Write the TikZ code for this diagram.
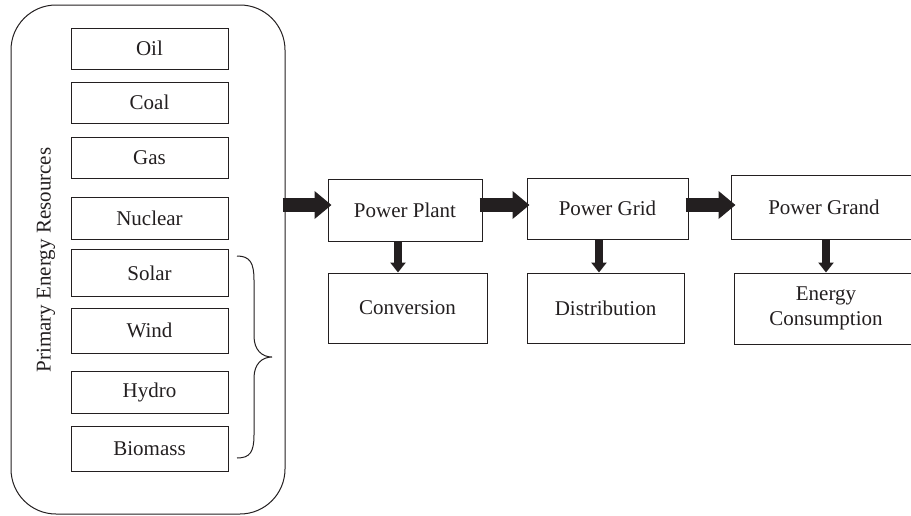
\documentclass[tikz,border=0pt]{standalone}
\usepackage{fontspec}
\setmainfont{Liberation Serif}
\usetikzlibrary{arrows.meta,calc}
\definecolor{ink}{HTML}{231F20}
\begin{document}
\begin{tikzpicture}[x=1pt,y=-1pt,
  box/.style={draw=ink, line width=1pt, inner sep=0pt, align=center,
    font=\fontsize{21}{25}\selectfont, text=ink},
  src/.style={box, minimum width=157pt},
  harrow/.style={draw=ink, line width=14pt, -{Triangle[width=27pt,length=17pt]}},
  varrow/.style={draw=ink, line width=8pt, -{Triangle[width=15pt,length=10pt]}}]
\useasboundingbox (0,0) rectangle (911,515);

% outer rounded frame
\node[draw=ink, line width=1pt, rounded corners=45pt, minimum width=274pt,
  minimum height=509pt, inner sep=0pt] (outer) at (148,259.5) {};

\node[rotate=90, text=ink, font=\fontsize{21}{25}\selectfont] (label) at (46,260)
  {Primary Energy Resources};

% sources
\node[src, minimum height=41pt] (oil) at (149.5,48.5) {Oil};
\node[src, minimum height=41pt] (coal) at (149.5,102.5) {Coal};
\node[src, minimum height=41pt] (gas) at (149.5,157.5) {Gas};
\node[src, minimum height=42pt] (nuclear) at (149.5,218) {Nuclear};
\node[src, minimum height=47pt] (solar) at (149.5,273) {Solar};
\node[src, minimum height=45pt] (wind) at (149.5,330.5) {Wind};
\node[src, minimum height=42pt] (hydro) at (149.5,392) {Hydro};
\node[src, minimum height=45pt] (biomass) at (149.5,448.5) {Biomass};

% brace
\draw[ink, line width=1pt] (237,256) .. controls (250,256) and (254,263) .. (254,280)
  -- (254,336) .. controls (254,350) and (262,357) .. (272,357)
  .. controls (262,357) and (254,364) .. (254,378)
  -- (254,435) .. controls (254,452) and (250,458) .. (237,458);

% chain
\node[box, minimum width=154pt, minimum height=62pt] (plant) at (405,210) {Power Plant};
\node[box, minimum width=159pt, minimum height=70pt] (conv) at (407.5,308) {Conversion};
\node[box, minimum width=161pt, minimum height=61pt] (grid) at (607.5,208.5) {Power Grid};
\node[box, minimum width=157pt, minimum height=70pt] (dist) at (605.5,308) {Distribution};
\node[box, minimum width=186pt, minimum height=64pt] (grand) at (824,207) {Power Grand};
\node[box, minimum width=184pt, minimum height=71pt] (cons) at (826,308.5) {Energy\\Consumption};

% arrows
\draw[harrow] ([xshift=-3pt,yshift=5pt]outer.east |- plant.west) -- ([xshift=4pt,yshift=5pt]plant.west);
\draw[harrow] ([xshift=-3pt,yshift=5pt]plant.east) -- ([xshift=3pt,yshift=5pt]plant.east -| grid.west);
\draw[harrow] ([xshift=-3pt,yshift=3.5pt]grid.east) -- ([xshift=5pt,yshift=3.5pt]grid.east -| grand.west);

\draw[varrow] ([xshift=-7pt]plant.south) -- ([xshift=-7pt]plant.south |- conv.north);
\draw[varrow] ([xshift=-8.5pt]grid.south) -- ([xshift=-8.5pt]grid.south |- dist.north);
\draw[varrow] ([xshift=2pt]grand.south) -- ([xshift=2pt]grand.south |- cons.north);
\end{tikzpicture}
\end{document}
